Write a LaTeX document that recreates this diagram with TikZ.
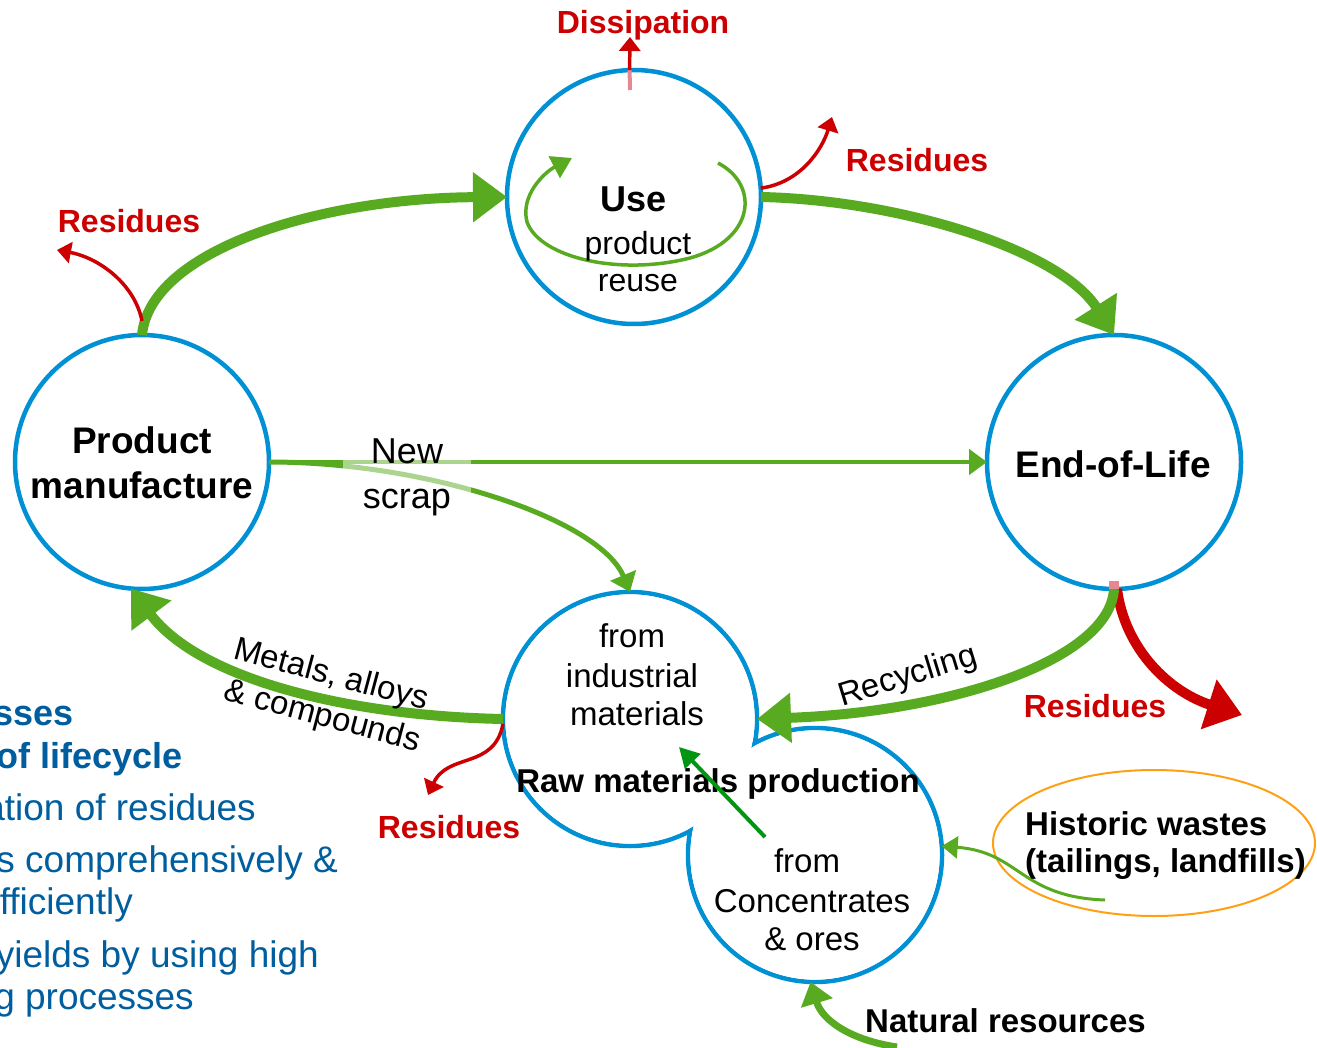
\documentclass[tikz,border=0pt]{standalone}
\usepackage{fontspec}
\setmainfont{Liberation Sans}
\usetikzlibrary{arrows.meta,shapes.geometric}
\definecolor{cgreen}{RGB}{88,170,32}
\definecolor{cblue}{RGB}{0,144,212}
\definecolor{cred}{RGB}{204,0,0}
\definecolor{cpink}{RGB}{230,135,145}
\definecolor{ctext}{RGB}{0,94,158}
\definecolor{corange}{RGB}{255,160,20}
\definecolor{cdark}{RGB}{0,150,20}
\begin{document}
\begin{tikzpicture}[x=1pt,y=-1pt,
  stage/.style={circle,draw=cblue,fill=white,line width=4.5pt,minimum size=254pt,inner sep=0pt,outer sep=0pt},
  bigflow/.style={draw=cgreen,line width=10pt,-{Triangle[length=34pt,width=48pt]}},
  redbig/.style={draw=cred,line width=10pt,-{Triangle[length=35pt,width=50pt]}},
  thinflow/.style={draw=cgreen,line width=4.5pt,-{Triangle[length=18pt,width=25pt]}},
  scrapflow/.style={draw=cgreen,line width=5pt,-{Triangle[length=18pt,width=27pt]}},
  medflow/.style={draw=cgreen,line width=7pt,-{Triangle[length=22pt,width=32pt]}},
  histflow/.style={draw=cgreen,line width=3pt,-{Triangle[length=16pt,width=22pt]}},
  loopflow/.style={draw=cgreen,line width=3.5pt,-{Triangle[length=20pt,width=24pt]}},
  darkflow/.style={draw=cdark,line width=4pt,-{Triangle[length=20pt,width=21pt]}},
  redthin/.style={draw=cred,line width=3.5pt,-{Triangle[length=14pt,width=21pt]}},
  txt/.style={inner sep=0pt,anchor=base,font=\fontsize{33}{39}\selectfont},
  btxt/.style={inner sep=0pt,anchor=base,font=\fontsize{33}{39}\selectfont\bfseries},
  stagetxt/.style={inner sep=0pt,anchor=base,font=\fontsize{37}{44}\selectfont\bfseries},
  restxt/.style={inner sep=0pt,anchor=base,text=cred,font=\fontsize{32}{38}\selectfont\bfseries},
  bluebold/.style={inner sep=0pt,anchor=base east,text=ctext,font=\fontsize{36}{42}\selectfont\bfseries},
  bluereg/.style={inner sep=0pt,anchor=base east,text=ctext,font=\fontsize{37}{43}\selectfont}
]
\useasboundingbox (0,0) rectangle (1317,1048);
\clip (0,0) rectangle (1317,1048);

% stages
\node[stage] (use) at (634,197) {};
\node[stage] (pm) at (142,462) {};
\node[stage] (eol) at (1114,462) {};
\node[stage] (rawA) at (630,719) {};
\node[stage] (rawB) at (815,855) {};
\fill[white] (rawA.center) circle[radius=124.6pt];
\fill[white] (rawB.center) circle[radius=124.6pt];
\node[ellipse,draw=corange,line width=2pt,minimum width=322pt,minimum height=146pt,inner sep=0pt] (hist) at (1154,843) {};

% free ends
\coordinate (dissTip) at (630,37);
\coordinate (resTR) at (832,117);
\coordinate (resL) at (57,250);
\coordinate (resBL) at (428,795);
\coordinate (resR) at (1242,715);
\coordinate (natTail) at (897,1047);
\coordinate (histTail) at (1105,900);
\coordinate (dgTail) at (765,837);
\coordinate (dgTip) at (679,747);

% main flows
\draw[bigflow] (pm.north) .. controls (150,250) and (320,198) .. (use.west);
\draw[bigflow] (use.east) .. controls (900,200) and (1060,250) .. (eol.north);
\draw[thinflow] (pm.east) -- (eol.west);
\draw[scrapflow] (pm.east) .. controls (430,462) and (600,520) .. (rawA.north);
\draw[bigflow] (rawA.west) .. controls (350,716) and (200,680) .. (pm.265);
\draw[redbig] ([xshift=3pt]eol.south) .. controls (1125,650) and (1170,692) .. (resR);
\draw[bigflow] (eol.south) .. controls (1110,660) and (950,712) .. (rawA.east);
\draw[cpink,line width=10pt] ([yshift=8pt]eol.south) -- (eol.south);
\draw[medflow] (natTail) .. controls (850,1040) and (822,1020) .. (rawB.268);
\draw[histflow] (histTail) .. controls (1020,897) and (1020,852) .. (rawB.4);

% residues and dissipation
\draw[cpink,line width=4pt] (630,90) -- (use.92);
\draw[redthin] (use.92) -- (dissTip);
\draw[redthin] (use.4) .. controls (800,183) and (822,150) .. (resTR);
\draw[redthin] ([yshift=14pt]pm.north) .. controls (135,285) and (100,258) .. (resL);
\draw[redthin] ([yshift=-5pt]rawA.west) .. controls (494,770) and (448,752) .. (resBL);

% reuse loop
\draw[loopflow] (718,163) .. controls (760,185) and (755,240) .. (690,258)
  .. controls (620,276) and (540,258) .. (527,222)
  .. controls (520,195) and (545,172) .. (572,158);

% new scrap label (semi-transparent box)
\node[fill=white,fill opacity=0.5,text opacity=1,inner sep=0pt,minimum width=128pt,minimum height=80pt,
  align=center,font=\fontsize{36}{45}\selectfont] (newscrap) at (407,477) {New\\scrap};

% texts
\node[restxt] (tdiss) at (643,34) {Dissipation};
\node[restxt] (tresTR) at (917,172) {Residues};
\node[restxt] (tresL) at (129,233) {Residues};
\node[restxt] (tresR) at (1095,717) {Residues};
\node[restxt] (tresBL) at (449,838) {Residues};

\node[inner sep=0pt,anchor=base,font=\fontsize{36}{42}\selectfont\bfseries] (tuse) at (634,212) {Use};
\node[inner sep=0pt,anchor=base,font=\fontsize{32}{38}\selectfont] (tprod) at (638,255) {product};
\node[inner sep=0pt,anchor=base,font=\fontsize{32}{38}\selectfont] (treuse) at (638,292) {reuse};

\node[stagetxt] (tpm1) at (142,453) {Product};
\node[stagetxt] (tpm2) at (142,498) {manufacture};
\node[stagetxt] (teol) at (1113,477) {End-of-Life};

\node[txt] (tfrom1) at (632,647) {from};
\node[txt] (tind) at (632,687) {industrial};
\node[txt] (tmat) at (637,725) {materials};
\node[btxt] (traw) at (718,792) {Raw materials production};
\node[txt] (tfrom2) at (807,872) {from};
\node[txt] (tconc) at (812,912) {Concentrates};
\node[txt] (tores) at (812,950) {\& ores};

\node[btxt,anchor=base west] (thist1) at (1025,835) {Historic wastes};
\node[btxt,anchor=base west] (thist2) at (1025,872) {(tailings, landfills)};
\node[btxt,anchor=base west] (tnat) at (865,1032) {Natural resources};

\node[txt,anchor=center,rotate=-15] (tmet1) at (331,676) {Metals, alloys};
\node[txt,anchor=center,rotate=-15] (tmet2) at (322,717) {\& compounds};
\node[txt,anchor=center,rotate=17] (trec) at (908,677) {Recycling};

\draw[darkflow] (dgTail) -- (dgTip);

% cut-off side text
\node[bluebold] (b1) at (74,725) {sses};
\node[bluebold] (b2) at (183,768) {of lifecycle};
\node[bluereg] (b3) at (256,820) {ation of residues};
\node[bluereg] (b4) at (338,872) {s comprehensively \&};
\node[bluereg] (b5) at (133,914) {fficiently};
\node[bluereg] (b6) at (319,967) {yields by using high};
\node[bluereg] (b7) at (194,1009) {g processes};
\end{tikzpicture}
\end{document}
